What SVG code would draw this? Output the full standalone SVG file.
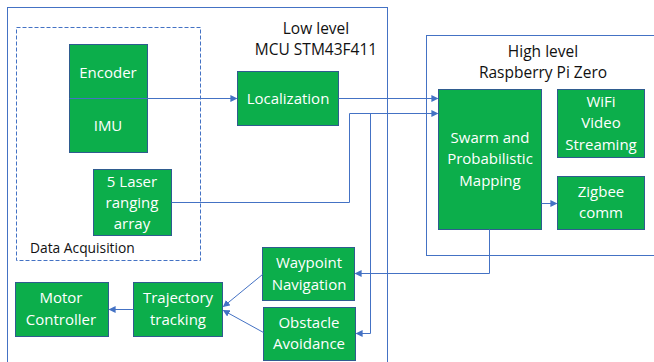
<svg xmlns="http://www.w3.org/2000/svg" width="654" height="362" viewBox="0 0 654 362">
<defs>
<style>
.frame{fill:none;stroke:#4472c4;stroke-width:1}
.dash{fill:none;stroke:#4472c4;stroke-width:1;stroke-dasharray:4 2}
.box{fill:#0cae4b;stroke:#2f5c8f;stroke-width:1}
.t{font-family:"Open Sans","Liberation Sans",sans-serif;font-size:15px;fill:#ffffff;text-anchor:middle}
.h{font-family:"Open Sans","Liberation Sans",sans-serif;font-size:15.5px;fill:#111111;text-anchor:middle}
.c{fill:none;stroke:#4472c4;stroke-width:1}
</style>
<marker id="ah" viewBox="0 0 8 8" refX="7" refY="4" markerWidth="7" markerHeight="7" markerUnits="userSpaceOnUse" orient="auto">
<path d="M0,0 L8,4 L0,8 z" fill="#4472c4"/>
</marker>
</defs>
<rect width="654" height="362" fill="#ffffff"/>
<g id="low-level">
<rect class="frame" x="7.5" y="7.5" width="380" height="360"/>
<text class="h" x="316" y="34">Low level</text>
<text class="h" x="316" y="55">MCU STM43F411</text>
</g>
<g id="high-level">
<rect class="frame" x="426.5" y="35.5" width="240" height="220"/>
<text class="h" x="543" y="57">High level</text>
<text class="h" x="543" y="78">Raspberry Pi Zero</text>
</g>
<g id="data-acquisition">
<rect class="dash" x="16.5" y="27.5" width="184" height="233"/>
<text x="30" y="253" style="font-family:'Open Sans','Liberation Sans',sans-serif;font-size:13.8px;fill:#111111">Data Acquisition</text>
</g>
<g id="encoder-imu">
<rect class="box" x="69.5" y="44.5" width="78" height="108"/>
<text class="t" x="108" y="78">Encoder</text>
<text class="t" x="108" y="131">IMU</text>
</g>
<g id="localization">
<rect class="box" x="237.5" y="71.5" width="101" height="54"/>
<text class="t" x="288" y="104">Localization</text>
</g>
<g id="laser">
<rect class="box" x="93.5" y="169.5" width="78" height="66"/>
<text class="t" x="132" y="187">5 Laser</text>
<text class="t" x="132" y="208">ranging</text>
<text class="t" x="132" y="229">array</text>
</g>
<g id="swarm">
<rect class="box" x="438.5" y="89.5" width="103" height="140"/>
<text class="t" x="490" y="143">Swarm and</text>
<text class="t" x="490" y="164">Probabilistic</text>
<text class="t" x="490" y="186">Mapping</text>
</g>
<g id="wifi">
<rect class="box" x="557.5" y="89.5" width="87" height="68"/>
<text class="t" x="601" y="107">WiFi</text>
<text class="t" x="601" y="128">Video</text>
<text class="t" x="601" y="150">Streaming</text>
</g>
<g id="zigbee">
<rect class="box" x="557.5" y="176.5" width="87" height="53"/>
<text class="t" x="601" y="197">Zigbee</text>
<text class="t" x="601" y="218">comm</text>
</g>
<g id="waypoint">
<rect class="box" x="262.5" y="247.5" width="92" height="53"/>
<text class="t" x="309" y="268">Waypoint</text>
<text class="t" x="309" y="290">Navigation</text>
</g>
<g id="obstacle">
<rect class="box" x="263.5" y="307.5" width="92" height="53"/>
<text class="t" x="309" y="328">Obstacle</text>
<text class="t" x="309" y="349">Avoidance</text>
</g>
<g id="trajectory">
<rect class="box" x="133.5" y="282.5" width="89" height="54"/>
<text class="t" x="178" y="303">Trajectory</text>
<text class="t" x="178" y="325">tracking</text>
</g>
<g id="motor">
<rect class="box" x="15.5" y="282.5" width="93" height="54"/>
<text class="t" x="61" y="303">Motor</text>
<text class="t" x="61" y="325">Controller</text>
</g>
<g id="connectors">
<path class="c" d="M69.5,98.5 H236.5" marker-end="url(#ah)"/>
<path class="c" d="M338.5,98.5 H437.5" marker-end="url(#ah)"/>
<path class="c" d="M171.5,202.5 H349.5 V113.5 H437.5" marker-end="url(#ah)"/>
<path class="c" d="M370.5,113.5 V333.5 H356.5" marker-end="url(#ah)"/>
<path class="c" d="M489.5,229.5 V273.5 H355.5" marker-end="url(#ah)"/>
<path class="c" d="M541.5,203.5 H556.5" marker-end="url(#ah)"/>
<path class="c" d="M262.5,274.5 L223.5,306.5" marker-end="url(#ah)"/>
<path class="c" d="M263.5,332.5 L223.5,310.5" marker-end="url(#ah)"/>
<path class="c" d="M133.5,309.5 H109.5" marker-end="url(#ah)"/>
</g>
</svg>
